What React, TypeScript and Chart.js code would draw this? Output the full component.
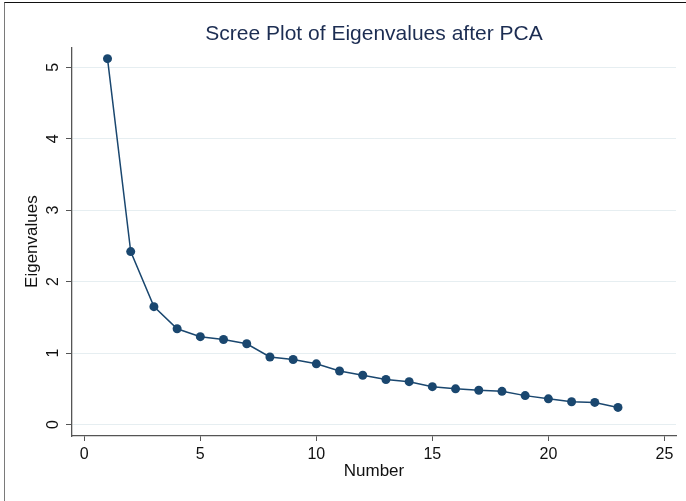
import React, { useEffect, useRef } from "react";
import { Chart, registerables } from "chart.js";

Chart.register(...registerables);

// ---- Data ----
const componentNumbers = [1, 2, 3, 4, 5, 6, 7, 8, 9, 10, 11, 12, 13, 14, 15, 16, 17, 18, 19, 20, 21, 22, 23];
const eigenvalues = [
  5.12, 2.42, 1.65, 1.34, 1.23, 1.19, 1.13, 0.945, 0.91, 0.85, 0.75, 0.69,
  0.63, 0.6, 0.53, 0.5, 0.48, 0.465, 0.405, 0.36, 0.32, 0.31, 0.24,
];
const chartTitle = "Scree Plot of Eigenvalues after PCA";
const xAxisTitle = "Number";
const yAxisTitle = "Eigenvalues";
const xTickStep = 5;
const yTickStep = 1;

const FONT = '"Liberation Sans", Arial, Helvetica, sans-serif';
const NAVY = "#1a476f";
const AXIS = "#555555";
const GRID = "#e6eef1";

export default function App() {
  const canvasRef = useRef<HTMLCanvasElement | null>(null);

  useEffect(() => {
    document.body.style.margin = "0";
    const canvas = canvasRef.current;
    if (!canvas) return;
    const points = componentNumbers.map((n, i) => ({ x: n, y: eigenvalues[i] }));
    const chart = new Chart(canvas, {
      type: "line",
      data: {
        datasets: [
          {
            data: points,
            borderColor: NAVY,
            backgroundColor: NAVY,
            borderWidth: 1.5,
            pointRadius: 4.5,
            pointBackgroundColor: NAVY,
            pointBorderColor: NAVY,
            pointBorderWidth: 0,
            tension: 0,
            fill: false,
          },
        ],
      },
      options: {
        responsive: false,
        animation: false,
        devicePixelRatio: 1,
        layout: { padding: { left: 0, right: 10, top: 0, bottom: 0 } },
        plugins: {
          legend: { display: false },
          tooltip: { enabled: false },
          title: {
            display: true,
            text: chartTitle,
            fullSize: false,
            color: "#1c2d52",
            font: { family: FONT, size: 21, weight: "normal", lineHeight: 1.2 },
            padding: { top: 22, bottom: 0 },
          },
        },
        scales: {
          x: {
            type: "linear",
            min: -0.53,
            max: 25.5,
            afterFit: (scale: any) => {
              scale.height = 65;
            },
            ticks: {
              stepSize: xTickStep,
              includeBounds: false,
              color: "#111",
              padding: 4,
              maxRotation: 0,
              font: { family: FONT, size: 16 },
            },
            grid: {
              drawOnChartArea: false,
              drawTicks: true,
              tickLength: 5,
              tickColor: AXIS,
            },
            border: { display: true, color: AXIS, width: 1.3 },
            title: {
              display: true,
              text: xAxisTitle,
              color: "#111",
              font: { family: FONT, size: 17, lineHeight: 1.2 },
              padding: { top: 0, bottom: 19 },
            },
          },
          y: {
            type: "linear",
            min: -0.16,
            max: 5.28,
            afterFit: (scale: any) => {
              scale.width = 72;
            },
            ticks: {
              stepSize: yTickStep,
              includeBounds: false,
              color: "#111",
              padding: 8,
              minRotation: 90,
              maxRotation: 90,
              crossAlign: "center",
              font: { family: FONT, size: 16 },
            },
            grid: {
              color: GRID,
              lineWidth: 1,
              drawTicks: true,
              tickLength: 6,
              tickColor: AXIS,
            },
            border: { display: true, color: AXIS, width: 1.3 },
            title: {
              display: true,
              text: yAxisTitle,
              color: "#111",
              font: { family: FONT, size: 17, lineHeight: 1.2 },
              padding: { top: 22, bottom: 0 },
            },
          },
        },
      },
    });
    return () => chart.destroy();
  }, []);

  return (
    <div style={{ position: "relative", width: 686, height: 501, overflow: "hidden", background: "#fff" }}>
      <canvas ref={canvasRef} width={686} height={501} style={{ display: "block", width: 686, height: 501 }} />
      <div
        style={{
          position: "absolute",
          left: 4,
          top: 2,
          width: 700,
          height: 520,
          borderTop: "1.5px solid #111",
          borderLeft: "1px solid #7a7a7a",
          pointerEvents: "none",
        }}
      />
    </div>
  );
}
